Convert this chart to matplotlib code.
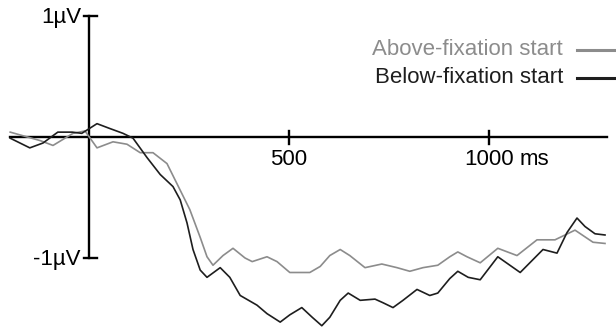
import numpy as np
import matplotlib
matplotlib.use('Agg')
import matplotlib.pyplot as plt

plt.rcParams['font.family'] = ['Liberation Sans', 'DejaVu Sans']

# ERP traces (time in ms, amplitude in microvolts)
above_t = [-197, -165, -122, -90, -40, -10, 20, 60, 95, 128, 160, 195, 228, 252, 278, 295,
           310, 335, 360, 390, 408, 445, 470, 502, 552, 578, 602, 628, 652, 690, 732, 770,
           802, 835, 872, 902, 922, 945, 978, 1022, 1070, 1120, 1165, 1215, 1260, 1290]
above_v = [0.04, 0.01, -0.03, -0.07, 0.03, 0.05, -0.09, -0.04, -0.06, -0.13, -0.13, -0.22,
           -0.44, -0.60, -0.83, -0.99, -1.06, -0.98, -0.92, -1.00, -1.03, -0.99, -1.03,
           -1.12, -1.12, -1.07, -0.98, -0.93, -0.98, -1.08, -1.05, -1.08, -1.11, -1.08,
           -1.06, -0.99, -0.95, -0.99, -1.04, -0.92, -0.98, -0.85, -0.85, -0.77, -0.87, -0.88]

below_t = [-197, -148, -115, -78, -42, -18, 20, 52, 85, 110, 145, 178, 210, 228, 245, 260,
           278, 295, 328, 352, 378, 420, 445, 478, 502, 532, 558, 582, 602, 628, 648, 678,
           715, 735, 760, 785, 820, 852, 872, 902, 922, 948, 978, 1022, 1078, 1135, 1170,
           1195, 1220, 1240, 1265, 1290]
below_v = [-0.01, -0.09, -0.05, 0.04, 0.04, 0.03, 0.11, 0.07, 0.03, -0.01, -0.17, -0.31,
           -0.41, -0.52, -0.71, -0.93, -1.10, -1.16, -1.08, -1.16, -1.31, -1.39, -1.46,
           -1.53, -1.47, -1.41, -1.49, -1.56, -1.49, -1.35, -1.29, -1.35, -1.34, -1.37,
           -1.41, -1.35, -1.26, -1.31, -1.29, -1.17, -1.11, -1.16, -1.18, -0.99, -1.12,
           -0.93, -0.96, -0.79, -0.67, -0.74, -0.80, -0.81]

labels = ['Above-fixation start', 'Below-fixation start']
colors = ['#8c8c8c', '#1e1e1e']
x_ticks = [500, 1000]
y_ticks = [1, -1]

fig = plt.figure(figsize=(6.16, 3.29), dpi=100)
ax = fig.add_axes([0, 0, 1, 1])
ax.set_xlim(-222.5, 1317.5)
ax.set_ylim(-1.587, 1.132)
ax.axis('off')

# axes drawn by hand through the origin
ax.plot([-197, 1295], [0, 0], color='black', lw=1.7, zorder=1)
ax.plot([0, 0], [-1.0, 1.0], color='black', lw=1.7, zorder=1)
for xt in x_ticks:
    ax.plot([xt, xt], [-0.06, 0.05], color='black', lw=1.7)
for yt in y_ticks:
    ax.plot([-12, 20], [yt, yt], color='black', lw=1.7)

ax.plot(above_t, above_v, color=colors[0], lw=1.2, zorder=2, solid_joinstyle='round')
ax.plot(below_t, below_v, color=colors[1], lw=1.2, zorder=3, solid_joinstyle='round')

fs = 16
ax.text(-20, 0.99, '1µV', ha='right', va='center', fontsize=fs)
ax.text(-22, -1.01, '-1µV', ha='right', va='center', fontsize=fs)
ax.text(500, -0.10, '500', ha='center', va='top', fontsize=fs)
ax.text(1000, -0.10, '1000', ha='center', va='top', fontsize=fs)
ax.text(1077, -0.10, 'ms', ha='left', va='top', fontsize=fs)

# legend drawn by hand
leg_y = [0.72, 0.49]
for lab, c, ly in zip(labels, colors, leg_y):
    ax.text(1185, ly, lab, ha='right', va='center', fontsize=fs, color=c)
    ax.plot([1220, 1315], [ly, ly], color=c, lw=2.2)

fig.savefig('out.png', dpi=100)
